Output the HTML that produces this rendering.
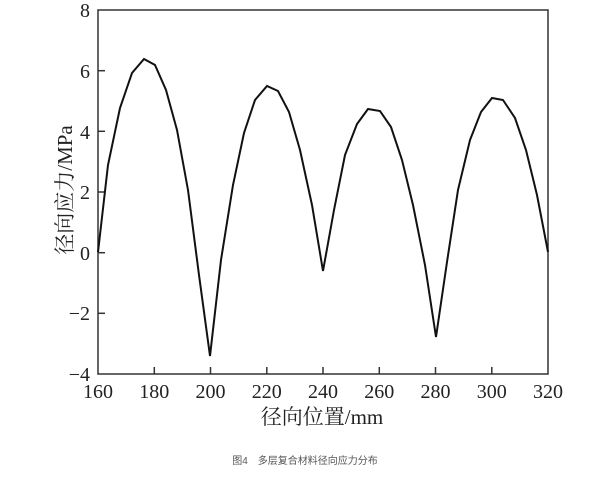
<!DOCTYPE html>
<html><head><meta charset="utf-8"><style>
body{margin:0;background:#fff;width:600px;height:472px;overflow:hidden}
</style></head><body>
<svg width="600" height="472" xmlns="http://www.w3.org/2000/svg" font-family="Liberation Serif, Noto Serif CJK SC, serif">
<rect x="98" y="10" width="450" height="364" fill="none" stroke="#333" stroke-width="1.5"/>
<g stroke="#333" stroke-width="1.5">
<line x1="98" y1="70.7" x2="105" y2="70.7"/><line x1="98" y1="131.3" x2="105" y2="131.3"/>
<line x1="98" y1="192" x2="105" y2="192"/><line x1="98" y1="252.7" x2="105" y2="252.7"/>
<line x1="98" y1="313.3" x2="105" y2="313.3"/>
<line x1="154.3" y1="374" x2="154.3" y2="367"/><line x1="210.5" y1="374" x2="210.5" y2="367"/>
<line x1="266.8" y1="374" x2="266.8" y2="367"/><line x1="323" y1="374" x2="323" y2="367"/>
<line x1="379.3" y1="374" x2="379.3" y2="367"/><line x1="435.5" y1="374" x2="435.5" y2="367"/>
<line x1="491.8" y1="374" x2="491.8" y2="367"/>
</g>
<g font-size="20" fill="#222" text-anchor="end">
<text x="90" y="17">8</text><text x="90" y="78">6</text><text x="90" y="139">4</text>
<text x="90" y="199">2</text><text x="90" y="260">0</text><text x="90" y="320">−2</text><text x="90" y="381">−4</text>
</g>
<g font-size="20" fill="#222" text-anchor="middle">
<text x="98" y="398">160</text><text x="154.3" y="398">180</text><text x="210.5" y="398">200</text>
<text x="266.8" y="398">220</text><text x="323" y="398">240</text><text x="379.3" y="398">260</text>
<text x="435.5" y="398">280</text><text x="491.8" y="398">300</text><text x="548" y="398">320</text>
</g>
<text x="322" y="424" font-size="21" text-anchor="middle" fill="#222">径向位置/mm</text>
<text transform="translate(72,190) rotate(-90)" font-size="21" text-anchor="middle" fill="#222">径向应力/MPa</text>
<text x="305" y="464" font-size="10" text-anchor="middle" fill="#555" font-family="Liberation Sans, Noto Sans CJK SC, sans-serif">图4　多层复合材料径向应力分布</text>
<polyline fill="none" stroke="#111" stroke-width="2" stroke-linejoin="miter" points="98,252 108,165 120,108 132,73 144,59 155,65 166,90 177,130 188,190 199,275 210,356 221,260 233,185 244,133 255,100 267,86 278,91 289,112 300,150 312,205 323,271 334,210 345,155 357,124 368,109 380,111 391,127 402,160 413,205 425,265 436,337 447,262 458,190 470,140 481,112 492,98 503,100 515,118 526,150 537,195 548,252"/>
</svg>
</body></html>
